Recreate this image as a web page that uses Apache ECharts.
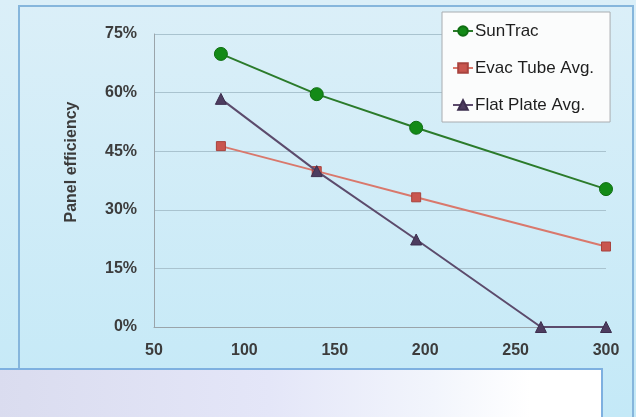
<!DOCTYPE html>
<html>
<head>
<meta charset="utf-8">
<script src="https://cdn.jsdelivr.net/npm/echarts@6/dist/echarts.min.js"></script>
<style>html,body{margin:0;padding:0;}#c{width:636px;height:417px;}</style>
</head>
<body>
<div id="c"></div>
<script>
var seriesNames = ['SunTrac', 'Evac Tube Avg.', 'Flat Plate Avg.'];
var sunTrac = [[87, 69.9], [140, 59.6], [195, 51.0], [300, 35.3]];
var evacTube = [[87, 46.3], [140, 39.9], [195, 33.2], [300, 20.6]];
var flatPlate = [[87, 58.4], [140, 39.9], [195, 22.4], [264, 0], [300, 0]];
var xTicks = [50, 100, 150, 200, 250, 300];
var yTicks = [0, 15, 30, 45, 60, 75];
var yTitle = 'Panel efficiency';

var chart = echarts.init(document.getElementById('c'), null, {renderer: 'canvas'});
var tickFont = {color: '#3c3c3c', fontFamily: 'Liberation Sans', fontWeight: 'bold', fontSize: 16};
chart.setOption({
  animation: false,
  backgroundColor: new echarts.graphic.LinearGradient(0, 0, 0, 1, [
    {offset: 0, color: '#dbeff8'}, {offset: 1, color: '#c4e9f7'}
  ]),
  grid: {left: 154, right: 30, top: 34, bottom: 90},
  legend: {
    orient: 'vertical',
    left: 442, top: 12,
    padding: [9, 16, 7, 10],
    itemGap: 17,
    itemWidth: 20, itemHeight: 12,
    backgroundColor: '#fbfcfc',
    borderColor: '#a8acb0', borderWidth: 1,
    textStyle: {fontFamily: 'Liberation Sans', fontSize: 17, color: '#1e1e1e', lineHeight: 20, padding: [0, 0, 0, -3]},
    data: seriesNames
  },
  xAxis: {
    type: 'value', min: xTicks[0], max: xTicks[xTicks.length - 1], interval: 50,
    axisLine: {show: true, lineStyle: {color: '#9aa4aa', width: 1}},
    axisTick: {show: false},
    splitLine: {show: false},
    axisLabel: Object.assign({margin: 16}, tickFont)
  },
  yAxis: {
    type: 'value', min: yTicks[0], max: yTicks[yTicks.length - 1], interval: 15,
    axisLine: {show: true, lineStyle: {color: '#9aa4aa', width: 1}},
    axisTick: {show: false},
    splitLine: {show: true, lineStyle: {color: '#a9c3cf', width: 1}},
    axisLabel: Object.assign({margin: 17, formatter: '{value}%'}, tickFont)
  },
  graphic: [
    {type: 'rect', z: -1, silent: true, shape: {x: 19, y: 6, width: 614, height: 440},
     style: {fill: 'none', stroke: '#86b6dc', lineWidth: 2}},
    {type: 'text', x: 72, y: 162, rotation: Math.PI / 2, silent: true,
     style: {text: yTitle, fontFamily: 'Liberation Sans', fontWeight: 'bold', fontSize: 16,
             fill: '#3c3c3c', align: 'center', verticalAlign: 'middle'}},
    {type: 'rect', z: 100, silent: true, shape: {x: -2, y: 369, width: 604, height: 60},
     style: {stroke: '#7eb0e0', lineWidth: 2,
             fill: new echarts.graphic.LinearGradient(0, 0, 1, 0, [
               {offset: 0, color: '#dadcef'}, {offset: 0.45, color: '#e4e6f8'},
               {offset: 0.72, color: '#f2f5fc'}, {offset: 0.88, color: '#ffffff'}, {offset: 1, color: '#ffffff'}
             ])}}
  ],
  series: [
    {name: seriesNames[0], type: 'line', data: sunTrac, symbol: 'circle', symbolSize: 13,
     lineStyle: {color: '#2b7b2b', width: 2}, itemStyle: {color: '#138a17', borderColor: '#0f6e12', borderWidth: 1}, z: 4},
    {name: seriesNames[1], type: 'line', data: evacTube, symbol: 'rect', symbolSize: 9,
     lineStyle: {color: '#d9786c', width: 2}, itemStyle: {color: '#c9564f', borderColor: '#a8433e', borderWidth: 1}, z: 3},
    {name: seriesNames[2], type: 'line', data: flatPlate, symbol: 'triangle', symbolSize: 11,
     lineStyle: {color: '#5c4b6c', width: 2}, itemStyle: {color: '#4d3c5f', borderColor: '#3d2e4e', borderWidth: 1}, z: 5}
  ]
});
</script>
</body>
</html>
